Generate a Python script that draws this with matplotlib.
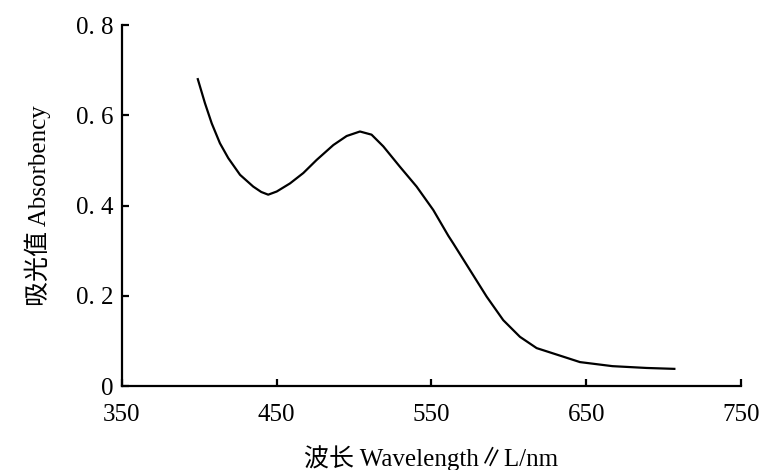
import matplotlib
matplotlib.use("Agg")
import matplotlib.pyplot as plt

plt.rcParams['font.family'] = ['Liberation Serif', 'Noto Sans CJK SC', 'DejaVu Sans']

# -----------------------------
# Data
# -----------------------------
wavelength = [399, 403.6, 408, 413.3, 418.7, 426.3, 434.8, 440, 444.5, 450,
              458.6, 467.2, 475.8, 486.6, 495.2, 503.8, 511.3, 518.9,
              529.6, 540.4, 551.2, 560.9, 564.1, 574.9, 585.7, 596.4,
              607.2, 618, 635.2, 646, 667, 689, 707]
absorbance = [0.680, 0.627, 0.582, 0.538, 0.505, 0.468, 0.442, 0.430, 0.424,
              0.431, 0.449, 0.472, 0.501, 0.534, 0.554, 0.564, 0.557, 0.531,
              0.486, 0.442, 0.390, 0.333, 0.316, 0.257, 0.198, 0.146,
              0.109, 0.084, 0.065, 0.053, 0.044, 0.040, 0.038]

x_ticks = [350, 450, 550, 650, 750]
y_ticks = [0, 0.2, 0.4, 0.6, 0.8]
y_tick_labels = ["0", "0. 2", "0. 4", "0. 6", "0. 8"]

# -----------------------------
# Plot
# -----------------------------
fig = plt.figure(figsize=(7.84, 4.70), dpi=100)
ax = fig.add_axes([0.1556, 0.1787, 0.7894, 0.7681])

ax.plot(wavelength, absorbance, color="black", linewidth=1.6)

ax.set_xlim(350, 750)
ax.set_ylim(0, 0.8)
ax.set_xticks(x_ticks)
ax.set_yticks(y_ticks)
ax.set_yticklabels(y_tick_labels)

for side in ["top", "right"]:
    ax.spines[side].set_visible(False)
for side in ["left", "bottom"]:
    ax.spines[side].set_linewidth(1.6)

ax.tick_params(direction="in", length=5, width=1.6, labelsize=18)
ax.tick_params(axis="x", pad=13)
ax.tick_params(axis="y", pad=6)

ax.set_xlabel("波长 Wavelength∥L/nm", fontsize=18, labelpad=14)
ax.set_ylabel("吸光值 Absorbency", fontsize=18, labelpad=18)

fig.savefig("out.png", dpi=100)
